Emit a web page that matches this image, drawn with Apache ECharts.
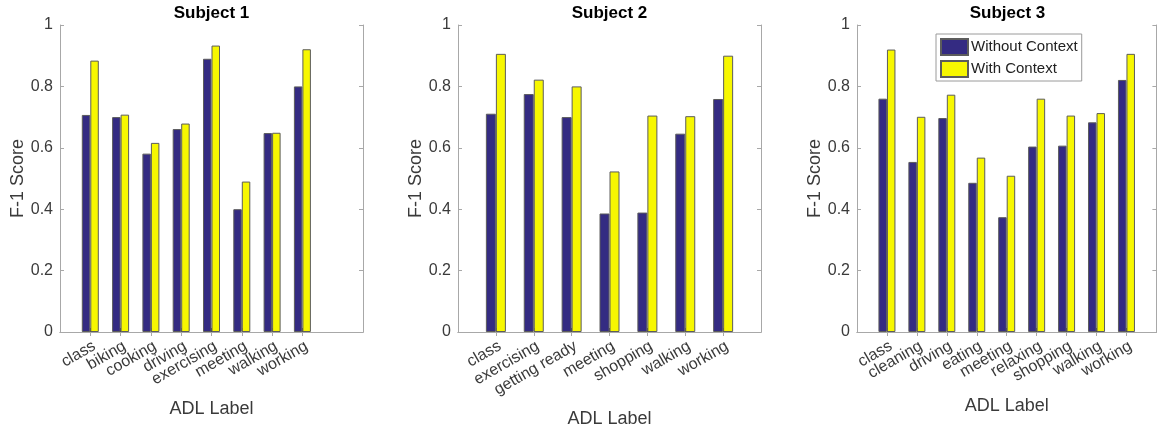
<!DOCTYPE html>
<html>
<head>
<meta charset="utf-8">
<script src="https://cdn.jsdelivr.net/npm/echarts@6/dist/echarts.min.js"></script>
<style>html,body{margin:0;padding:0;background:#fff;}#c{width:1159px;height:435px;}</style>
</head>
<body>
<div id="c"></div>
<script>
// ---- data ----
const titles = ['Subject 1', 'Subject 2', 'Subject 3'];
const seriesNames = ['Without Context', 'With Context'];
const cats1 = ['class', 'biking', 'cooking', 'driving', 'exercising', 'meeting', 'walking', 'working'];
const without1 = [0.707, 0.700, 0.581, 0.661, 0.890, 0.400, 0.648, 0.800];
const with1 = [0.884, 0.708, 0.616, 0.679, 0.933, 0.490, 0.649, 0.921];
const cats2 = ['class', 'exercising', 'getting ready', 'meeting', 'shopping', 'walking', 'working'];
const without2 = [0.711, 0.775, 0.700, 0.386, 0.389, 0.646, 0.759];
const with2 = [0.906, 0.822, 0.800, 0.523, 0.705, 0.703, 0.900];
const cats3 = ['class', 'cleaning', 'driving', 'eating', 'meeting', 'relaxing', 'shopping', 'walking', 'working'];
const without3 = [0.760, 0.554, 0.697, 0.486, 0.374, 0.604, 0.607, 0.683, 0.821];
const with3 = [0.920, 0.701, 0.773, 0.568, 0.509, 0.760, 0.705, 0.713, 0.906];
const xSlots = [10, 8, 10];           // x-axis limit [0, n] of each panel
const yMin = 0, yMax = 1, yStep = 0.2;
const yName = 'F-1 Score';
const xName = 'ADL Label';

// ---- layout / style ----
const panels = [
  { cats: cats1, a: without1, b: with1, left: 60, width: 303, barW: 8.5, nameGap: 68 },
  { cats: cats2, a: without2, b: with2, left: 458, width: 303, barW: 10, nameGap: 78 },
  { cats: cats3, a: without3, b: with3, left: 857, width: 301, barW: 8.5, nameGap: 65 }
];
const TOP = 25, HEIGHT = 307;
const BLUE = '#342b82', YELLOW = '#f7f700', EDGE = '#5c5c5c', AXIS = '#a8a8a8', TXT = '#3a3a3a';
const FONT = 'Liberation Sans, Arial, sans-serif';

function pad(arr, n, fill) {
  const out = [fill];
  arr.forEach(v => out.push(v));
  while (out.length < n + 1) out.push(fill);
  return out;
}

const grid = [], xAxis = [], yAxis = [], series = [], title = [];
panels.forEach((p, i) => {
  const n = xSlots[i];
  const catData = pad(p.cats, n, '');
  grid.push({ left: p.left, top: TOP, width: p.width, height: HEIGHT });
  title.push({
    text: titles[i], left: p.left + p.width / 2, top: 5, textAlign: 'center', padding: 0,
    textStyle: { fontFamily: FONT, fontSize: 17, fontWeight: 'bold', color: '#000' }
  });
  const tickInt = (idx, val) => val !== '';
  xAxis.push({
    type: 'category', gridIndex: i, data: catData, boundaryGap: false, position: 'bottom',
    name: xName, nameLocation: 'middle', nameGap: p.nameGap,
    nameTextStyle: { fontFamily: FONT, fontSize: 18, color: TXT },
    axisLine: { show: true, lineStyle: { color: AXIS, width: 1 } },
    axisTick: { show: true, inside: true, length: 4, interval: tickInt, lineStyle: { color: '#444' } },
    axisLabel: { interval: 0, rotate: 30, margin: 6, verticalAlign: 'top', align: 'right',
                 fontFamily: FONT, fontSize: 16, color: TXT },
    splitLine: { show: false }
  });
  xAxis.push({
    type: 'category', gridIndex: i, data: catData, boundaryGap: false, position: 'top',
    axisLine: { show: true, lineStyle: { color: AXIS, width: 1 } },
    axisTick: { show: true, inside: true, length: 4, interval: tickInt, lineStyle: { color: AXIS } },
    axisLabel: { show: false }, splitLine: { show: false }
  });
  yAxis.push({
    type: 'value', gridIndex: i, min: yMin, max: yMax, interval: yStep, position: 'left',
    name: yName, nameLocation: 'middle', nameGap: 33, nameRotate: 90,
    nameTextStyle: { fontFamily: FONT, fontSize: 18, color: TXT },
    axisLine: { show: true, lineStyle: { color: AXIS, width: 1 } },
    axisTick: { show: true, inside: true, length: 4, lineStyle: { color: AXIS } },
    axisLabel: { margin: 7, fontFamily: FONT, fontSize: 16, color: TXT },
    splitLine: { show: false }
  });
  yAxis.push({
    type: 'value', gridIndex: i, min: yMin, max: yMax, interval: yStep, position: 'right',
    axisLine: { show: true, lineStyle: { color: AXIS, width: 1 } },
    axisTick: { show: true, inside: true, length: 4, lineStyle: { color: AXIS } },
    axisLabel: { show: false }, splitLine: { show: false }
  });
  [[p.a, BLUE, seriesNames[0]], [p.b, YELLOW, seriesNames[1]]].forEach(([vals, col, nm]) => {
    series.push({
      type: 'bar', name: nm, xAxisIndex: i * 2, yAxisIndex: i * 2,
      data: pad(vals, n, null), barWidth: p.barW, barGap: '0%',
      itemStyle: { color: col, borderColor: EDGE, borderWidth: 1 },
      emphasis: { disabled: true }, animation: false
    });
  });
});

const chart = echarts.init(document.getElementById('c'), null, { renderer: 'canvas' });
chart.setOption({
  animation: false,
  title: title,
  grid: grid, xAxis: xAxis, yAxis: yAxis, series: series,
  legend: {
    data: seriesNames, orient: 'vertical', left: 936, top: 34,
    padding: [4, 4, 3, 4], itemGap: 4, itemWidth: 27, itemHeight: 16,
    borderColor: '#9a9a9a', borderWidth: 1, backgroundColor: '#fff',
    icon: 'rect', selectedMode: false,
    textStyle: { fontFamily: FONT, fontSize: 15, color: '#222', padding: [0, 0, 0, -2] }
  }
});
</script>
</body>
</html>
